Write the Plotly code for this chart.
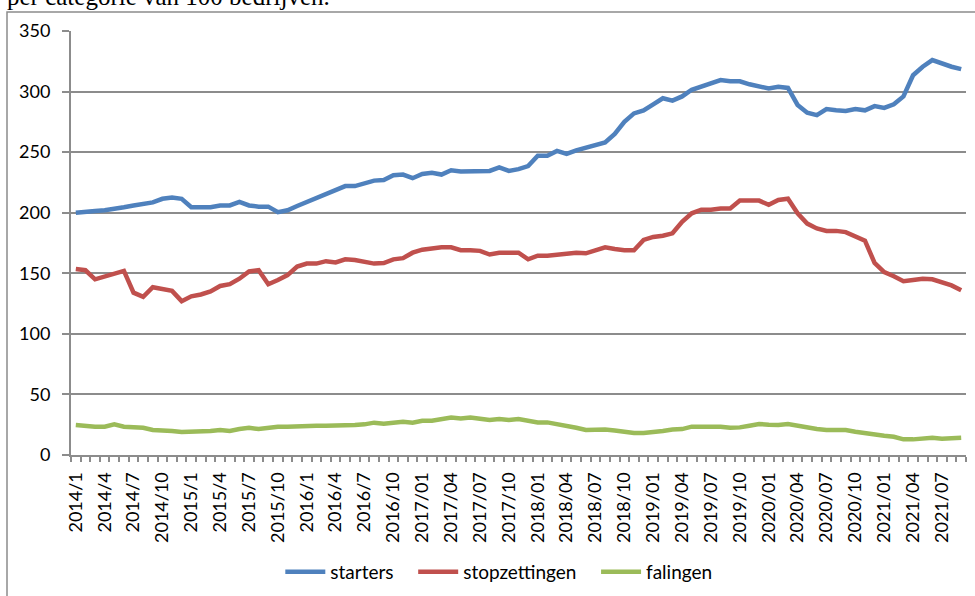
import plotly.graph_objects as go

# Monthly categories 2014/1 .. 2021/09 (labels as in the source: no zero padding before 2017)
months = [f"{y}/{m}" if y < 2017 else f"{y}/{m:02d}"
          for y in range(2014, 2022) for m in range(1, 13)][:93]

# every third month gets a label
tick_labels = [lab if i % 3 == 0 else "" for i, lab in enumerate(months)]

starters = [200, 201, 201.5, 202, 203, 204.5, 206, 207.5, 208.5, 211.5, 212.5, 211.5,
            204.5, 204.5, 204.5, 206, 206, 209, 206, 205, 205, 200.5, 202, 205.5,
            209, 212, 215, 218.5, 222, 222, 224, 226.5, 227, 231, 231.5, 228.5,
            232, 233, 231.5, 235, 234, 234, 234, 234.5, 237.5, 234.5, 236, 238.5,
            247, 247, 251, 248.5, 251.5, 253.5, 255.5, 258, 265, 275, 282, 284.5,
            289.5, 294.5, 292.5, 296, 301.5, 304, 307, 309.5, 308.5, 308.5, 306, 304.5,
            302.5, 304, 303, 289, 282.5, 280.5, 285.5, 284.5, 284, 285.5, 284.5, 288,
            286.5, 289.5, 296, 313.5, 320.5, 326, 323, 320.5, 318.5]

stopzettingen = [153.5, 152.5, 145, 147.5, 150, 152, 134, 130.5, 138.5, 137, 135.5, 127,
                 131, 132.5, 135, 139.5, 141, 145.5, 151.5, 152.5, 141, 144.5, 148.5, 155.5,
                 158, 158, 160, 159, 161.5, 161, 159.5, 158, 158.5, 161.5, 162.5, 167,
                 169.5, 170.5, 171.5, 171.5, 169, 169, 168.5, 165.5, 167, 167, 167, 161.5,
                 164.5, 164.5, 165.5, 166.5, 167, 166.5, 169, 171.5, 170, 169, 169, 177.5,
                 180, 181, 183, 192.5, 199.5, 202.5, 202.5, 203.5, 203.5, 210, 210, 210,
                 206.5, 210.5, 211.5, 199.5, 191, 187, 185, 185, 184, 180, 177, 158.5,
                 151, 147.5, 143.5, 144.5, 145.5, 145, 142.5, 140, 136]

falingen = [24.8, 23.9, 23.4, 23.4, 25.3, 23.4, 23.4, 22.5, 20.6, 20.6, 19.8, 19,
            19, 19, 19.8, 20.6, 19.8, 21.4, 22.5, 21.4, 22.5, 23.4, 23.4, 23.9,
            24.2, 24.2, 24.2, 24.2, 24.2, 24.8, 25.3, 26.7, 25.9, 26.7, 27.5, 26.7,
            28.3, 28.3, 29.4, 31, 30.2, 31, 29.9, 28.9, 29.7, 28.9, 29.7, 28.3,
            26.9, 26.9, 25.6, 24.2, 22.5, 20.6, 21.1, 21.1, 20.3, 19.2, 18.1, 18.1,
            18.7, 19.8, 21.1, 21.4, 23.4, 23.4, 23.9, 23.4, 22.5, 22.8, 24.2, 25.6,
            25, 24.8, 25.6, 23.9, 22.5, 21.4, 20.6, 20.6, 20.6, 19.2, 17.9, 16.5,
            15.9, 15.1, 12.9, 12.9, 13.2, 14.3, 13.5, 13.5, 14.3]

series_names = ["starters", "stopzettingen", "falingen"]
series_colors = ["#4F81BD", "#C0504D", "#9BBB59"]

FONT = "Lato, Carlito, Calibri, sans-serif"
FS_TICK = 18
FS_LEG = 19
GRID = "#8C8C8C"
PAD = "\u00a0\u00a0\u00a0"

fig = go.Figure()
for k, (name, vals, col) in enumerate(zip(series_names, [starters, stopzettingen, falingen],
                                          series_colors)):
    label = name + (PAD if k < len(series_names) - 1 else "")
    fig.add_trace(go.Scatter(x=months, y=vals, name=label, mode="lines",
                             line=dict(color=col, width=4.5)))

fig.update_layout(
    width=975, height=596,
    margin=dict(l=71, r=9, t=31, b=141, autoexpand=False),
    paper_bgcolor="white", plot_bgcolor="white",
    font=dict(family=FONT, size=FS_TICK, color="black"),
    showlegend=True,
    legend=dict(orientation="h", x=0.478, xanchor="center", y=-0.276, yanchor="middle",
                font=dict(family=FONT, size=FS_LEG, color="black"),
                itemwidth=40, bgcolor="rgba(0,0,0,0)"),
    xaxis=dict(type="category", categoryorder="array", categoryarray=months,
               tickmode="array", tickvals=months, ticktext=tick_labels,
               tickson="boundaries", ticks="outside", ticklen=5, tickwidth=1.5,
               tickcolor=GRID, tickangle=-90, showline=True, linecolor=GRID,
               linewidth=2, showgrid=False, zeroline=False, automargin=False,
               tickfont=dict(family=FONT, size=FS_TICK, color="black"),
               ticklabelstandoff=8,
               range=[-0.5, len(months) - 0.5]),
    yaxis=dict(range=[0, 350], dtick=50, tick0=0, ticks="outside", ticklen=7,
               tickwidth=1.5, tickcolor=GRID, showline=True, linecolor=GRID,
               linewidth=2, showgrid=True, gridcolor=GRID, gridwidth=1.5,
               zeroline=False, automargin=False,
               tickfont=dict(family=FONT, size=FS_TICK, color="black"),
               ticklabelstandoff=8),
)

# chart-area border (cropped on right/bottom in the source image)
fig.add_shape(type="rect", xref="paper", yref="paper",
              x0=(7 - 71) / 895, x1=(990 - 71) / 895,
              y0=(455 - 610) / 424, y1=(455 - 12) / 424,
              line=dict(color="#8C8C8C", width=1.5), fillcolor="rgba(0,0,0,0)",
              layer="below")

# clipped caption text at the very top of the source image
fig.add_annotation(text="per categorie van 100 bedrijven.", xref="paper", yref="paper",
                   x=(5 - 71) / 895, xanchor="left", y=(455 + 3.5) / 424, yanchor="middle",
                   showarrow=False,
                   font=dict(family="Liberation Serif, Times New Roman, serif", size=25,
                             color="black"))

fig.write_html("out.html", config={"displayModeBar": False},
               post_script="document.body.style.margin='0';")
